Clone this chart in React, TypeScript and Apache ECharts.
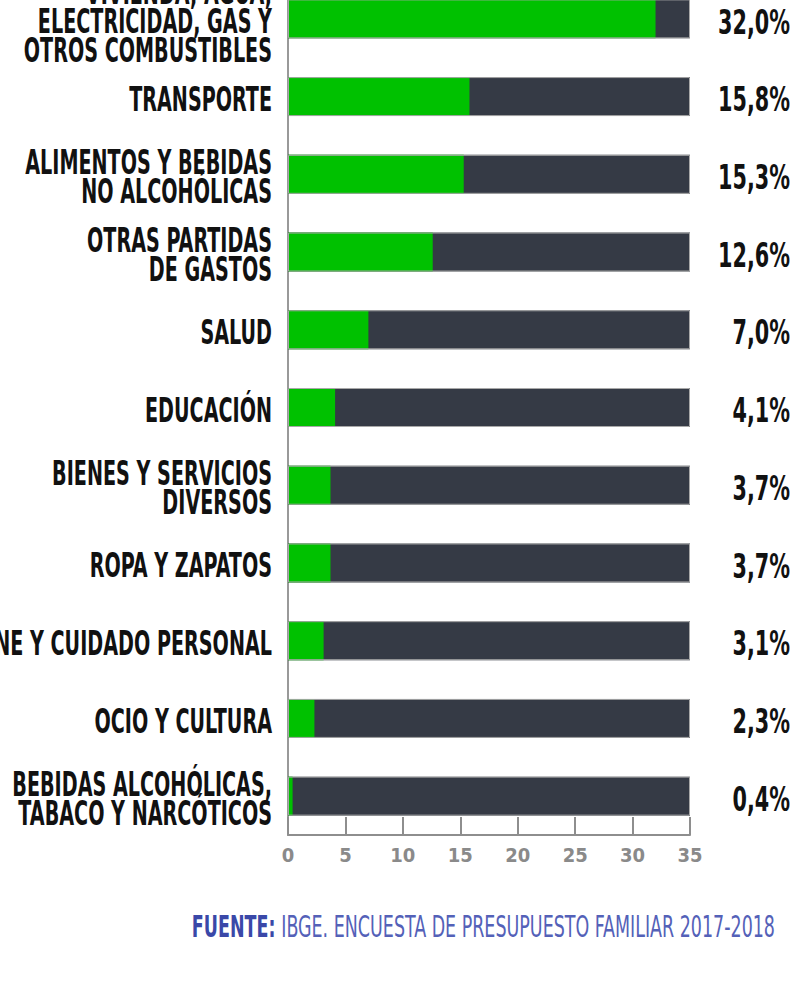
import React, { useEffect, useRef } from "react";
import * as echarts from "echarts";

const categories: string[] = [
  "VIVIENDA, AGUA,\nELECTRICIDAD, GAS Y\nOTROS COMBUSTIBLES",
  "TRANSPORTE",
  "ALIMENTOS Y BEBIDAS\nNO ALCOHÓLICAS",
  "OTRAS PARTIDAS\nDE GASTOS",
  "SALUD",
  "EDUCACIÓN",
  "BIENES Y SERVICIOS\nDIVERSOS",
  "ROPA Y ZAPATOS",
  "HIGIENE Y CUIDADO PERSONAL",
  "OCIO Y CULTURA",
  "BEBIDAS ALCOHÓLICAS,\nTABACO Y NARCÓTICOS",
];
const values: number[] = [32.0, 15.8, 15.3, 12.6, 7.0, 4.1, 3.7, 3.7, 3.1, 2.3, 0.4];
const axisMax = 35;
const axisStep = 5;
const fullValues: number[] = categories.map(() => axisMax);
const valueLabels: string[] = values.map((v) => v.toFixed(1).replace(".", ",") + "%");
const sourceBold = "FUENTE:";
const sourceText = " IBGE. ENCUESTA DE PRESUPUESTO FAMILIAR 2017-2018";

const FAM = '"DejaVu Sans Condensed", "DejaVu Sans", sans-serif';

function measure(text: string, weight: string, size: number): number {
  const c = document.createElement("canvas").getContext("2d")!;
  c.font = `${weight} ${size}px ${FAM}`;
  return c.measureText(text).width;
}

export default function App() {
  const ref = useRef<HTMLDivElement>(null);
  useEffect(() => {
    document.body.style.margin = "0";
    const chart = echarts.init(ref.current!, null, { renderer: "svg" });
    chart.setOption({
      animation: false,
      backgroundColor: "#ffffff",
      grid: {
        left: 288,
        top: -20,
        height: 855,
        width: 402,
        containLabel: false,
        outerBoundsMode: "none",
      },
      xAxis: {
        type: "value",
        min: 0,
        max: axisMax,
        interval: axisStep,
        axisLine: { show: true, lineStyle: { color: "#8e8e8e", width: 2 } },
        axisTick: { show: true, inside: true, length: 18, lineStyle: { color: "#8e8e8e", width: 2 } },
        splitLine: { show: false },
        axisLabel: {
          margin: 10,
          fontFamily: FAM,
          fontWeight: "bold",
          fontSize: 20,
          color: "#8a8a8a",
        },
      },
      yAxis: [
        {
          type: "category",
          inverse: true,
          data: categories,
          axisLine: { show: true, lineStyle: { color: "#999999", width: 2 } },
          axisTick: { show: false },
          axisLabel: { show: false },
        },
        {
          type: "category",
          inverse: true,
          position: "right",
          data: valueLabels,
          axisLine: { show: false },
          axisTick: { show: false },
          axisLabel: { show: false },
        },
      ],
      series: [
        {
          type: "bar",
          data: fullValues,
          barWidth: 39,
          barGap: "-100%",
          itemStyle: { color: "#353a45" },
          silent: true,
        },
        {
          type: "bar",
          data: values,
          barWidth: 39,
          barGap: "-100%",
          itemStyle: { color: "#00c100" },
        },
        {
          type: "bar",
          data: fullValues,
          barWidth: 39,
          barGap: "-100%",
          itemStyle: { color: "transparent", borderColor: "#a8a8a8", borderWidth: 1 },
          silent: true,
        },
      ],
    });

    const catSize = 34;
    const catScale = 143 / measure("TRANSPORTE", "bold", catSize);
    const valSize = 34;
    const valScale = 72 / measure("32,0%", "bold", valSize);
    const srcSize = 31;
    const srcW = measure(sourceBold, "bold", srcSize) + measure(sourceText, "normal", srcSize);
    const srcScale = 583 / srcW;

    const xLeft = chart.convertToPixel({ xAxisIndex: 0 }, 0) as number;
    const xRight = chart.convertToPixel({ xAxisIndex: 0 }, axisMax) as number;

    const graphics: any[] = [];
    categories.forEach((cat, i) => {
      const y = chart.convertToPixel({ yAxisIndex: 0 }, i) as number;
      graphics.push({
        type: "text",
        x: xLeft - 16,
        y: y + 3,
        scaleX: catScale,
        style: {
          text: cat,
          fill: "#111111",
          fontFamily: FAM,
          fontWeight: "bold",
          fontSize: catSize,
          lineHeight: 29,
          align: "right",
          textAlign: "right",
          verticalAlign: "middle",
          textVerticalAlign: "middle",
        },
      });
      graphics.push({
        type: "text",
        x: xRight + 100,
        y: y + 3,
        scaleX: valScale,
        style: {
          text: valueLabels[i],
          fill: "#111111",
          fontFamily: FAM,
          fontWeight: "bold",
          fontSize: valSize,
          align: "right",
          textAlign: "right",
          verticalAlign: "middle",
          textVerticalAlign: "middle",
        },
      });
    });
    graphics.push({
      type: "text",
      x: 775,
      y: 926,
      scaleX: srcScale,
      style: {
        text: `{b|${sourceBold}}{n|${sourceText}}`,
        align: "right",
        textAlign: "right",
        verticalAlign: "middle",
        textVerticalAlign: "middle",
        rich: {
          b: { fontFamily: FAM, fontWeight: "bold", fontSize: srcSize, fill: "#3a48a8", color: "#3a48a8" },
          n: { fontFamily: FAM, fontWeight: "normal", fontSize: srcSize, fill: "#5461b8", color: "#5461b8" },
        },
      },
    });
    chart.setOption({ graphic: graphics });
    return () => chart.dispose();
  }, []);
  return <div ref={ref} style={{ width: 802, height: 985 }} />;
}
